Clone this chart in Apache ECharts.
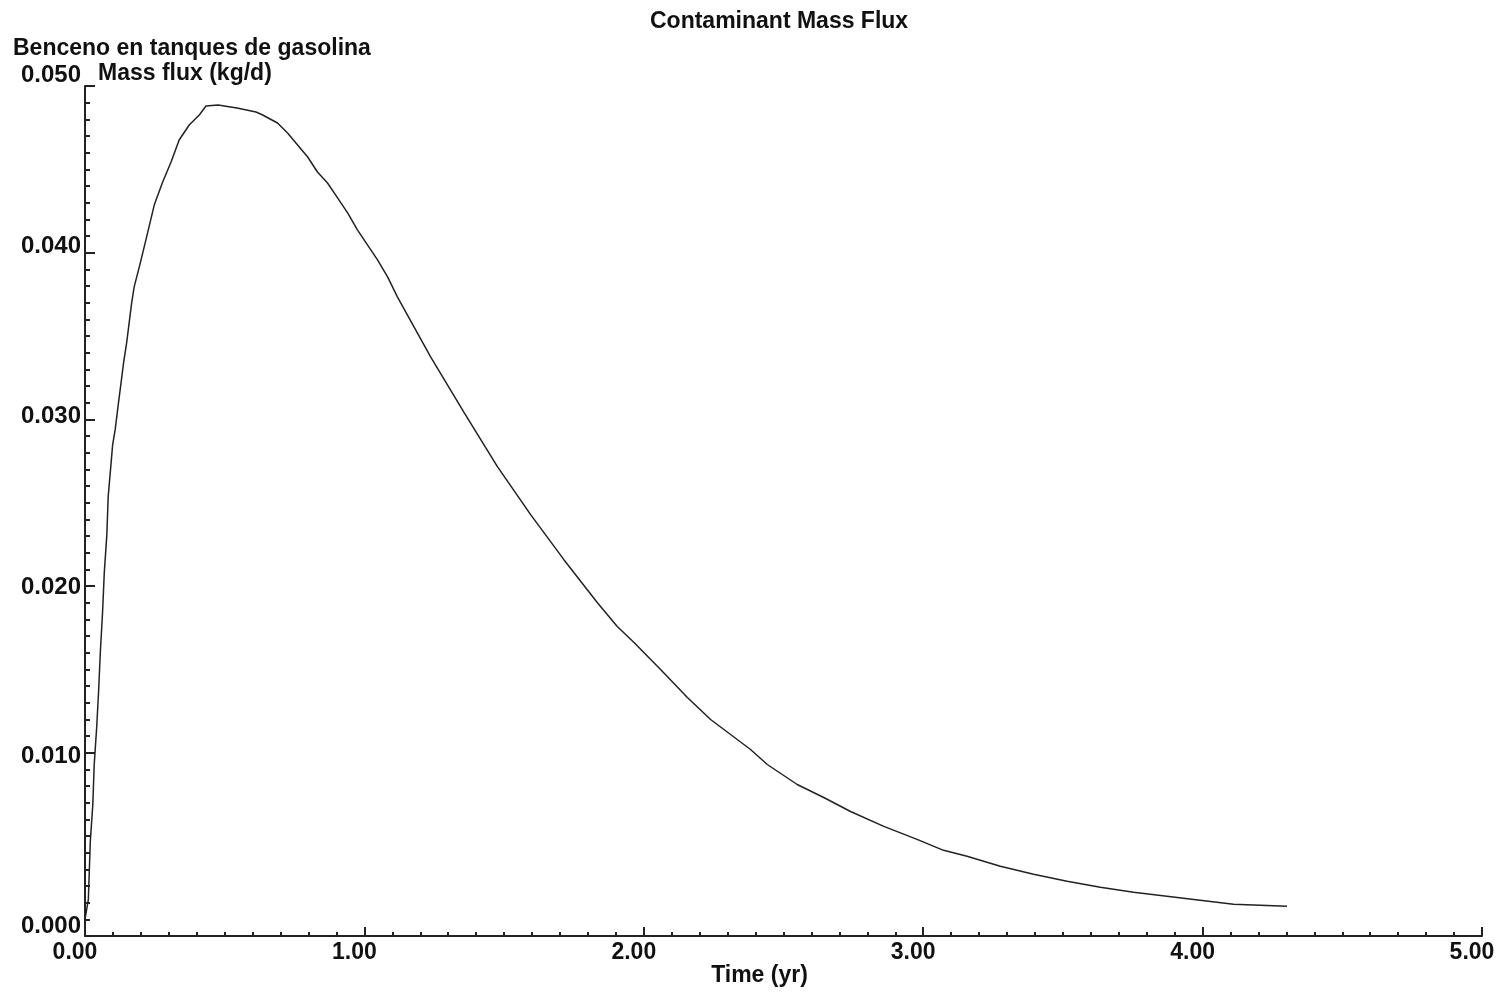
<!DOCTYPE html>
<html>
<head>
<meta charset="utf-8">
<title>Contaminant Mass Flux</title>
<script src="https://cdn.jsdelivr.net/npm/echarts@6/dist/echarts.min.js"></script>
<style>
  html, body { margin: 0; padding: 0; background: #fff; }
  #chart { width: 1507px; height: 994px; }
</style>
</head>
<body>
<div id="chart"></div>
<script>
// tiempo (años) y flujo de masa (kg/d)
const timeYr = [
  0.000, 0.012, 0.019, 0.028, 0.033, 0.042, 0.049, 0.055, 0.063, 0.069,
  0.078, 0.083, 0.099, 0.108, 0.119, 0.129, 0.138, 0.149, 0.158, 0.167,
  0.176, 0.198, 0.224, 0.248, 0.278, 0.308, 0.337, 0.373, 0.409, 0.433,
  0.476, 0.544, 0.612, 0.636, 0.689, 0.725, 0.761, 0.797, 0.832, 0.868,
  0.904, 0.940, 0.975, 1.011, 1.047, 1.083, 1.118, 1.237, 1.357, 1.476,
  1.595, 1.714, 1.834, 1.905, 1.965, 2.060, 2.156, 2.239, 2.382, 2.442,
  2.549, 2.644, 2.740, 2.859, 2.978, 3.073, 3.157, 3.276, 3.395, 3.515,
  3.634, 3.753, 3.872, 3.991, 4.111, 4.302
];
const massFlux = [
  0.00000, 0.00120, 0.00468, 0.00690, 0.00930, 0.01157, 0.01379, 0.01607, 0.01847, 0.02080,
  0.02302, 0.02536, 0.02848, 0.02938, 0.03088, 0.03219, 0.03339, 0.03459, 0.03579, 0.03699,
  0.03795, 0.03939, 0.04119, 0.04287, 0.04424, 0.04544, 0.04676, 0.04766, 0.04826, 0.04880,
  0.04886, 0.04868, 0.04844, 0.04826, 0.04778, 0.04718, 0.04646, 0.04574, 0.04484, 0.04418,
  0.04329, 0.04239, 0.04137, 0.04047, 0.03957, 0.03855, 0.03735, 0.03375, 0.03040, 0.02716,
  0.02428, 0.02158, 0.01900, 0.01757, 0.01661, 0.01499, 0.01331, 0.01199, 0.01019, 0.00929,
  0.00809, 0.00731, 0.00647, 0.00558, 0.00480, 0.00414, 0.00378, 0.00318, 0.00270, 0.00228,
  0.00192, 0.00162, 0.00138, 0.00114, 0.00090, 0.00078
];
const yLabelValues = [0, 0.01, 0.02, 0.03, 0.04, 0.05];
const yMajorTicks = [0.01, 0.02, 0.03, 0.04, 0.05];
const yMinorTicks = [];
for (let i = 0; i <= 50; i++) yMinorTicks.push(+(i * 0.001).toFixed(3));

const FONT = '"Liberation Sans", Arial, sans-serif';
const INK = '#111';
const txt = { fontFamily: FONT, fontSize: 23, fontWeight: 'bold', color: INK };

// el programa original dibuja las etiquetas del eje Y un poco desplazadas
const yLabelPad = [[14, 0, 0, 0], [8, 0, 0, 0], [2, 0, 0, 0], [0, 0, 6, 0], [0, 0, 12, 0], [0, 0, 22, 0]];
const yRich = {};
yLabelPad.forEach((p, i) => {
  yRich['l' + i] = Object.assign({}, txt, { fontSize: 24, padding: p });
});

const chart = echarts.init(document.getElementById('chart'));

const yBase = {
  type: 'value',
  min: -0.001,
  max: 0.05,
  position: 'left',
  splitLine: { show: false },
  axisLine: { onZero: false }
};

chart.setOption({
  backgroundColor: '#fff',
  animation: false,
  title: [
    { text: 'Contaminant Mass Flux', left: 650, top: 10, padding: 0, textStyle: txt },
    { text: 'Benceno en tanques de gasolina', left: 13, top: 37, padding: 0, textStyle: txt }
  ],
  grid: { left: 85, right: 25, top: 86, bottom: 58, outerBoundsMode: 'none' },
  xAxis: {
    type: 'value',
    min: 0, max: 5, interval: 1,
    name: 'Time (yr)',
    nameLocation: 'middle',
    nameGap: 28,
    nameMoveOverlap: false,
    nameTextStyle: Object.assign({}, txt, { padding: [0, 48, 0, 0] }),
    splitLine: { show: false },
    axisLine: { onZero: false, lineStyle: { color: '#222', width: 2 } },
    axisTick: { inside: true, length: 9, lineStyle: { color: '#222', width: 2 } },
    minorTick: { show: true, splitNumber: 10, length: 4, lineStyle: { color: '#222', width: 2 } },
    axisLabel: Object.assign({}, txt, {
      margin: 5,
      padding: [0, 20, 0, 0],
      formatter: v => v.toFixed(2)
    })
  },
  yAxis: [
    Object.assign({}, yBase, {
      name: 'Mass flux (kg/d)',
      nameLocation: 'end',
      nameGap: 12,
      nameTextStyle: Object.assign({}, txt, {
        align: 'left', verticalAlign: 'middle', padding: [0, 0, 0, 13]
      }),
      axisLine: { show: true, onZero: false, lineStyle: { color: '#222', width: 2 } },
      axisTick: { show: true, inside: true, length: 10, customValues: yMajorTicks,
                  lineStyle: { color: '#222', width: 2 } },
      axisLabel: Object.assign({}, txt, {
        fontSize: 24,
        margin: 4,
        customValues: yLabelValues,
        rich: yRich,
        formatter: v => '{l' + Math.round(v * 100) + '|' + v.toFixed(3) + '}'
      })
    }),
    Object.assign({}, yBase, {
      axisLine: { show: false, onZero: false },
      axisTick: { show: true, inside: true, length: 5, customValues: yMinorTicks,
                  lineStyle: { color: '#222', width: 2 } },
      axisLabel: { show: false }
    })
  ],
  series: [
    {
      type: 'line',
      yAxisIndex: 0,
      data: timeYr.map((t, i) => [t, massFlux[i]]),
      showSymbol: false,
      smooth: false,
      lineStyle: { color: '#222', width: 1.5 }
    }
  ]
});
</script>
</body>
</html>
